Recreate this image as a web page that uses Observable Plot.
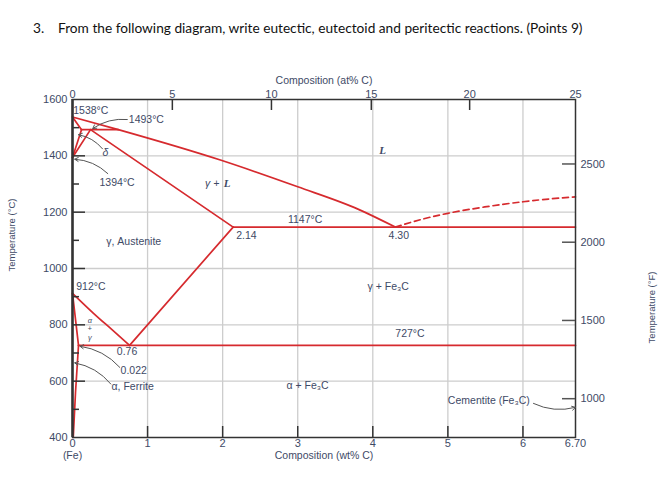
<!DOCTYPE html>
<html><head><meta charset="utf-8">
<script src="https://cdn.jsdelivr.net/npm/d3@7"></script>
<script src="https://cdn.jsdelivr.net/npm/@observablehq/plot@0.6"></script>
<style>
body{margin:0;background:#fff;}
#title{height:60px;box-sizing:border-box;padding:19px 0 0 33px;font:13.7px Lato, sans-serif;color:#111;white-space:nowrap;line-height:18px}
#title .n{display:inline-block;width:25px}
</style></head><body>
<div id="title"><span class="n">3.</span>From the following diagram, write eutectic, eutectoid and peritectic reactions. (Points 9)</div>
<div id="chart"></div>
<script>
// ---- axis tick data ----
const tempMajor = [600, 800, 1000, 1200, 1400];
const tempMinor = [500, 700, 900, 1100, 1300, 1500];
const tempLabels = [400, 600, 800, 1000, 1200, 1400, 1600];
const wtTicks = [1, 2, 3, 4, 5, 6];
const wtLabelPos = [0, 1, 2, 3, 4, 5, 6, 6.70];
const wtLabels = ["0", "1", "2", "3", "4", "5", "6", "6.70"];
const atLabels = ["0", "5", "10", "15", "20", "25"];
const atPosWt = [0, 1.33, 2.65, 3.98, 5.29, 6.70]; // where each at% tick sits on the wt% axis
const fTicks = [1000, 1500, 2000, 2500];

// ---- phase boundaries (wt% C, °C) ----
const liquidus = [[0, 1538], [0.61, 1493], [1.97, 1385], [3.0, 1290], [3.81, 1210], [4.30, 1147]];
const liquidusFe3C = [[4.30, 1147], [5.0, 1196], [6.0, 1237], [6.70, 1254]];
const deltaSolidus = [[0, 1538], [0.12, 1493]];
const peritectic = [[0.12, 1493], [0.61, 1493]];
const deltaGammaA = [[0.12, 1493], [0, 1394]];
const deltaGammaB = [[0.24, 1493], [0, 1394]];
const gammaSolidus = [[0.24, 1493], [2.14, 1147]];
const eutectic = [[2.14, 1147], [6.70, 1147]];
const acm = [[2.14, 1147], [0.76, 727]];
const a3 = [[0, 912], [0.28, 841], [0.5, 789], [0.76, 727]];
const alphaLimit = [[0, 912], [0.08, 727]];
const alphaSolvus = [[0.08, 727], [0.04, 560], [0.01, 400]];
const eutectoid = [[0.08, 727], [6.70, 727]];

// ---- labels ----
const labelText = ["1538°C", "1493°C", "1394°C", "1147°C", "2.14", "4.30", "γ, Austenite", "γ + Fe₃C", "727°C", "912°C", "0.76", "0.022", "α, Ferrite", "α + Fe₃C", "Cementite (Fe₃C)"];
const labelX = [0.01, 0.75, 0.36, 2.87, 2.18, 4.21, 0.45, 3.93, 4.30, 0.05, 0.59, 0.64, 0.52, 2.85, 5.0];
const labelY = [1562, 1529, 1305, 1174, 1117, 1117, 1097, 934, 770, 936, 706, 637, 580, 584, 531];
const greekText = ["δ", "γ +"];
const greekX = [0.44, 1.86];
const greekY = [1410, 1301];
const stackText = ["α", "+", "γ"];
const stackX = [0.23, 0.23, 0.23];
const stackY = [815, 785, 754];
const boldL = ["L", "L"];
const boldLX = [4.13, 2.06];
const boldLY = [1420, 1301];

// ---- callout arrows ----
const arrowFrom = [[0.73, 1529], [0.40, 1425], [0.47, 1337], [0.63, 649], [0.51, 590], [6.14, 521]];
const arrowTo = [[0.27, 1497], [0.08, 1475], [0.03, 1388], [0.10, 724], [0.03, 665], [6.70, 507]];

const W = 663, H = 419, mt = 39, mb = 42, ml = 72, mr = 88;
const fw = W - ml - mr, fh = H - mt - mb;
const red = "#d62a2e", ink = "#3e4a66", gridC = "#cdcdcd", axisC = "#333";
const boundary = (pts, extra = {}) => Plot.line(pts, {x: d => d[0], y: d => d[1], stroke: red, strokeWidth: 1.7, ...extra});
const labels = labelText.map((t, i) => ({t, x: labelX[i], y: labelY[i]}));
const greeks = greekText.map((t, i) => ({t, x: greekX[i], y: greekY[i]}));
const stack = stackText.map((t, i) => ({t, x: stackX[i], y: stackY[i]}));
const Ls = boldL.map((t, i) => ({t, x: boldLX[i], y: boldLY[i]}));
const arrows = arrowFrom.map((f, i) => ({x1: f[0], y1: f[1], x2: arrowTo[i][0], y2: arrowTo[i][1]}));
const fToC = f => (f - 32) * 5 / 9;
const tk = {stroke: axisC, strokeWidth: 1.5};

const chart = Plot.plot({
  width: W, height: H,
  marginTop: mt, marginBottom: mb, marginLeft: ml, marginRight: mr,
  x: {domain: [0, 6.70], axis: null},
  y: {domain: [400, 1600], axis: null},
  style: {fontFamily: "Liberation Sans, Arial, sans-serif", fontSize: "10.5px", background: "#fff"},
  marks: [
    Plot.gridX(wtTicks, {stroke: gridC, strokeOpacity: 1, strokeWidth: 1.3}),
    Plot.gridY(tempMajor, {stroke: gridC, strokeOpacity: 1, strokeWidth: 1.3}),
    boundary(liquidus, {curve: "monotone-x"}),
    boundary(liquidusFe3C, {strokeDasharray: "6,4", curve: "natural"}),
    boundary(deltaSolidus), boundary(peritectic), boundary(deltaGammaA), boundary(deltaGammaB),
    boundary(gammaSolidus), boundary(eutectic), boundary(acm), boundary(a3, {curve: "natural"}),
    boundary(alphaLimit), boundary(alphaSolvus, {curve: "natural"}), boundary(eutectoid),
    Plot.frame({stroke: axisC, strokeWidth: 1.5}),
    Plot.ruleX([0], {stroke: axisC, strokeWidth: 2.5}),
    // inward ticks
    Plot.ruleY(tempMajor, {...tk, insetRight: fw - 13}),
    Plot.ruleY(tempMinor, {...tk, insetRight: fw - 7}),
    Plot.ruleX(wtTicks, {...tk, insetTop: fh - 11}),
    Plot.ruleX(atPosWt.slice(1, -1), {...tk, insetBottom: fh - 11}),
    Plot.ruleY(fTicks, {y: fToC, stroke: "#555", strokeWidth: 1.5, insetLeft: fw - 13}),
    // tick labels
    Plot.text(tempLabels, {y: d => d, frameAnchor: "left", textAnchor: "end", dx: -5, text: d => String(d), fill: ink, fontSize: 11}),
    Plot.text(wtLabelPos, {x: d => d, frameAnchor: "bottom", dy: 9, text: (d, i) => wtLabels[i], fill: ink, fontSize: 11}),
    Plot.text(atPosWt, {x: d => d, frameAnchor: "top", dy: -9, text: (d, i) => atLabels[i], fill: ink, fontSize: 11}),
    Plot.text(fTicks, {y: fToC, frameAnchor: "right", textAnchor: "start", dx: 5, text: d => String(d), fill: ink, fontSize: 11}),
    // axis titles
    Plot.text(["Composition (wt% C)"], {frameAnchor: "bottom", dy: 21, fill: ink}),
    Plot.text(["(Fe)"], {x: 0, frameAnchor: "bottom", dy: 21, fill: ink}),
    Plot.text(["Composition (at% C)"], {frameAnchor: "top", dy: -23, fill: ink}),
    Plot.text(["Temperature (°C)"], {frameAnchor: "left", dx: -61, dy: 3, rotate: -90, fill: ink, fontSize: 9.5}),
    Plot.text(["Temperature (°F)"], {frameAnchor: "right", dx: 76, dy: 3, rotate: -90, fill: ink, fontSize: 9.5}),
    // annotations
    Plot.arrow(arrows, {x1: "x1", y1: "y1", x2: "x2", y2: "y2", bend: -20, stroke: "#555", strokeWidth: 1, headLength: 6}),
    Plot.text(labels, {x: "x", y: "y", text: "t", textAnchor: "start", fill: ink}),
    Plot.text(greeks, {x: "x", y: "y", text: "t", fill: ink, fontStyle: "italic"}),
    Plot.text(stack, {x: "x", y: "y", text: "t", fill: ink, fontStyle: "italic", fontSize: 7.5, lineHeight: 0.8}),
    Plot.text(Ls, {x: "x", y: "y", text: "t", fill: ink, fontStyle: "italic", fontWeight: "bold", fontFamily: "Liberation Serif, serif", fontSize: 11})
  ]
});
document.getElementById("chart").appendChild(chart);
</script>
</body></html>
